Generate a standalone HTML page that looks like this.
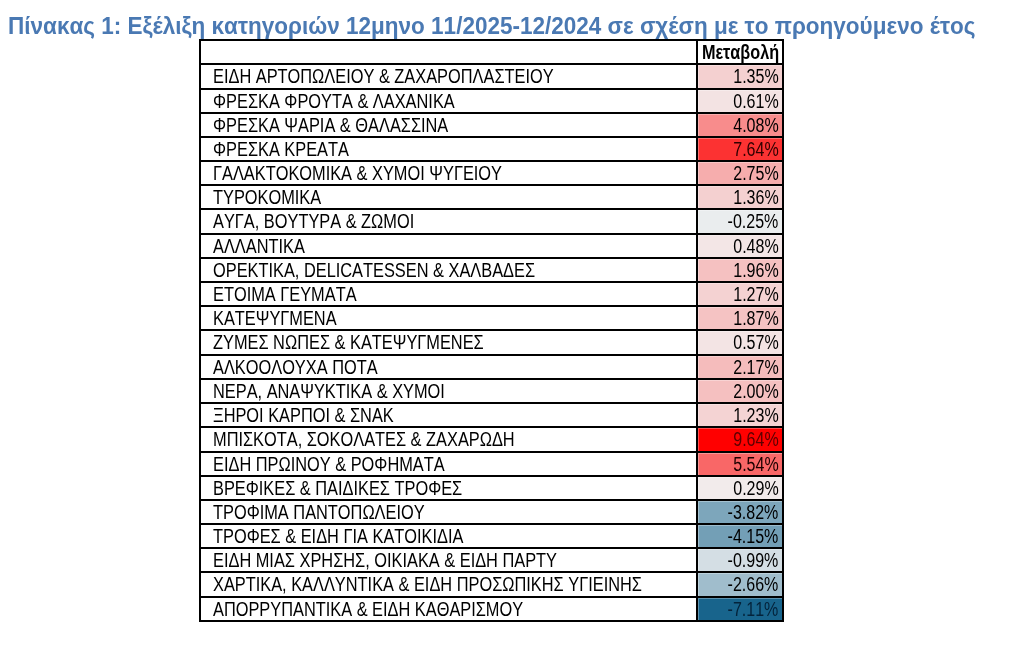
<!DOCTYPE html>
<html lang="el"><head><meta charset="utf-8"><title>Πίνακας 1</title>
<style>
html,body{margin:0;padding:0;background:#fff;}
body{width:1020px;height:652px;position:relative;overflow:hidden;font-family:"Liberation Sans",sans-serif;}
.title{position:absolute;left:7.8px;top:13px;font-weight:bold;font-size:23.6px;line-height:26px;color:#4a79b3;white-space:nowrap;font-kerning:none;transform:scaleX(0.9543);transform-origin:0 50%;}
.tbl{position:absolute;left:199px;top:39px;width:585px;height:583px;}
.h,.v{position:absolute;background:#000;}
.h{left:0;width:585px;height:2px;}
.v{top:0;height:583px;width:2px;}
.c{position:absolute;left:499px;width:84px;box-shadow:inset 1px 1px 0 rgba(255,255,255,.3);}
.n,.p,.hd{position:absolute;white-space:nowrap;font-size:20px;line-height:22px;color:#000;font-kerning:none;transform:scaleX(0.818);}
.n{left:14px;transform-origin:0 50%;}
.p{right:5.5px;transform-origin:100% 50%;transform:scaleX(0.802);}
.hd{right:5px;transform-origin:100% 50%;font-weight:bold;transform:scaleX(0.812);}
</style></head><body>
<div class="title">Πίνακας 1: Εξέλιξη κατηγοριών 12μηνο 11/2025-12/2024 σε σχέση με το προηγούμενο έτος</div>
<div class="tbl">
<div class="c" style="top:26px;height:23px;background:#f4d0d0"></div>
<div class="c" style="top:51px;height:22px;background:#f3e3e3"></div>
<div class="c" style="top:75px;height:22px;background:#f88c8c"></div>
<div class="c" style="top:99px;height:22px;background:#fc3232"></div>
<div class="c" style="top:123px;height:22px;background:#f6adad"></div>
<div class="c" style="top:147px;height:22px;background:#f4d0d0"></div>
<div class="c" style="top:171px;height:23px;background:#eaedee"></div>
<div class="c" style="top:196px;height:22px;background:#f3e6e6"></div>
<div class="c" style="top:220px;height:22px;background:#f5c1c1"></div>
<div class="c" style="top:244px;height:22px;background:#f4d2d2"></div>
<div class="c" style="top:268px;height:22px;background:#f5c3c3"></div>
<div class="c" style="top:292px;height:23px;background:#f3e4e4"></div>
<div class="c" style="top:317px;height:22px;background:#f5bcbc"></div>
<div class="c" style="top:341px;height:22px;background:#f5c0c0"></div>
<div class="c" style="top:365px;height:22px;background:#f4d3d3"></div>
<div class="c" style="top:389px;height:23px;background:#ff0000"></div>
<div class="c" style="top:414px;height:22px;background:#f96767"></div>
<div class="c" style="top:438px;height:22px;background:#f2ebeb"></div>
<div class="c" style="top:462px;height:22px;background:#7da6bb"></div>
<div class="c" style="top:486px;height:22px;background:#739fb6"></div>
<div class="c" style="top:510px;height:22px;background:#d4dee4"></div>
<div class="c" style="top:534px;height:23px;background:#a0bdcc"></div>
<div class="c" style="top:559px;height:22px;background:#18648c"></div>
<div class="h" style="top:0px"></div>
<div class="h" style="top:24px"></div>
<div class="h" style="top:49px"></div>
<div class="h" style="top:73px"></div>
<div class="h" style="top:97px"></div>
<div class="h" style="top:121px"></div>
<div class="h" style="top:145px"></div>
<div class="h" style="top:169px"></div>
<div class="h" style="top:194px"></div>
<div class="h" style="top:218px"></div>
<div class="h" style="top:242px"></div>
<div class="h" style="top:266px"></div>
<div class="h" style="top:290px"></div>
<div class="h" style="top:315px"></div>
<div class="h" style="top:339px"></div>
<div class="h" style="top:363px"></div>
<div class="h" style="top:387px"></div>
<div class="h" style="top:412px"></div>
<div class="h" style="top:436px"></div>
<div class="h" style="top:460px"></div>
<div class="h" style="top:484px"></div>
<div class="h" style="top:508px"></div>
<div class="h" style="top:532px"></div>
<div class="h" style="top:557px"></div>
<div class="h" style="top:581px"></div>
<div class="v" style="left:0px"></div>
<div class="v" style="left:497px"></div>
<div class="v" style="left:583px"></div>
<div class="hd" style="top:1.5px">Μεταβολή</div>
<div class="n" style="top:25.5px">ΕΙΔΗ ΑΡΤΟΠΩΛΕΙΟΥ &amp; ΖΑΧΑΡΟΠΛΑΣΤΕΙΟΥ</div>
<div class="p" style="top:25.5px">1.35%</div>
<div class="n" style="top:50.5px">ΦΡΕΣΚΑ ΦΡΟΥΤΑ &amp; ΛΑΧΑΝΙΚΑ</div>
<div class="p" style="top:50.5px">0.61%</div>
<div class="n" style="top:74.5px">ΦΡΕΣΚΑ ΨΑΡΙΑ &amp; ΘΑΛΑΣΣΙΝΑ</div>
<div class="p" style="top:74.5px">4.08%</div>
<div class="n" style="top:98.5px">ΦΡΕΣΚΑ ΚΡΕΑΤΑ</div>
<div class="p" style="top:98.5px;color:#300000">7.64%</div>
<div class="n" style="top:122.5px">ΓΑΛΑΚΤΟΚΟΜΙΚΑ &amp; ΧΥΜΟΙ ΨΥΓΕΙΟΥ</div>
<div class="p" style="top:122.5px">2.75%</div>
<div class="n" style="top:146.5px">ΤΥΡΟΚΟΜΙΚΑ</div>
<div class="p" style="top:146.5px">1.36%</div>
<div class="n" style="top:170.5px">ΑΥΓΑ, ΒΟΥΤΥΡΑ &amp; ΖΩΜΟΙ</div>
<div class="p" style="top:170.5px">-0.25%</div>
<div class="n" style="top:195.5px">ΑΛΛΑΝΤΙΚΑ</div>
<div class="p" style="top:195.5px">0.48%</div>
<div class="n" style="top:219.5px">ΟΡΕΚΤΙΚΑ, DELICATESSEN &amp; ΧΑΛΒΑΔΕΣ</div>
<div class="p" style="top:219.5px">1.96%</div>
<div class="n" style="top:243.5px">ΕΤΟΙΜΑ ΓΕΥΜΑΤΑ</div>
<div class="p" style="top:243.5px">1.27%</div>
<div class="n" style="top:267.5px">ΚΑΤΕΨΥΓΜΕΝΑ</div>
<div class="p" style="top:267.5px">1.87%</div>
<div class="n" style="top:291.5px">ΖΥΜΕΣ ΝΩΠΕΣ &amp; ΚΑΤΕΨΥΓΜΕΝΕΣ</div>
<div class="p" style="top:291.5px">0.57%</div>
<div class="n" style="top:316.5px">ΑΛΚΟΟΛΟΥΧΑ ΠΟΤΑ</div>
<div class="p" style="top:316.5px">2.17%</div>
<div class="n" style="top:340.5px">ΝΕΡΑ, ΑΝΑΨΥΚΤΙΚΑ &amp; ΧΥΜΟΙ</div>
<div class="p" style="top:340.5px">2.00%</div>
<div class="n" style="top:364.5px">ΞΗΡΟΙ ΚΑΡΠΟΙ &amp; ΣΝΑΚ</div>
<div class="p" style="top:364.5px">1.23%</div>
<div class="n" style="top:388.5px">ΜΠΙΣΚΟΤΑ, ΣΟΚΟΛΑΤΕΣ &amp; ΖΑΧΑΡΩΔΗ</div>
<div class="p" style="top:388.5px;color:#5a0000">9.64%</div>
<div class="n" style="top:413.5px">ΕΙΔΗ ΠΡΩΙΝΟΥ &amp; ΡΟΦΗΜΑΤΑ</div>
<div class="p" style="top:413.5px;color:#1c0000">5.54%</div>
<div class="n" style="top:437.5px">ΒΡΕΦΙΚΕΣ &amp; ΠΑΙΔΙΚΕΣ ΤΡΟΦΕΣ</div>
<div class="p" style="top:437.5px">0.29%</div>
<div class="n" style="top:461.5px">ΤΡΟΦΙΜΑ ΠΑΝΤΟΠΩΛΕΙΟΥ</div>
<div class="p" style="top:461.5px">-3.82%</div>
<div class="n" style="top:485.5px">ΤΡΟΦΕΣ &amp; ΕΙΔΗ ΓΙΑ ΚΑΤΟΙΚΙΔΙΑ</div>
<div class="p" style="top:485.5px">-4.15%</div>
<div class="n" style="top:509.5px">ΕΙΔΗ ΜΙΑΣ ΧΡΗΣΗΣ, ΟΙΚΙΑΚΑ &amp; ΕΙΔΗ ΠΑΡΤΥ</div>
<div class="p" style="top:509.5px">-0.99%</div>
<div class="n" style="top:533.5px">ΧΑΡΤΙΚΑ, ΚΑΛΛΥΝΤΙΚΑ &amp; ΕΙΔΗ ΠΡΟΣΩΠΙΚΗΣ ΥΓΙΕΙΝΗΣ</div>
<div class="p" style="top:533.5px">-2.66%</div>
<div class="n" style="top:558.5px">ΑΠΟΡΡΥΠΑΝΤΙΚΑ &amp; ΕΙΔΗ ΚΑΘΑΡΙΣΜΟΥ</div>
<div class="p" style="top:558.5px;color:#04233b">-7.11%</div>
</div></body></html>
